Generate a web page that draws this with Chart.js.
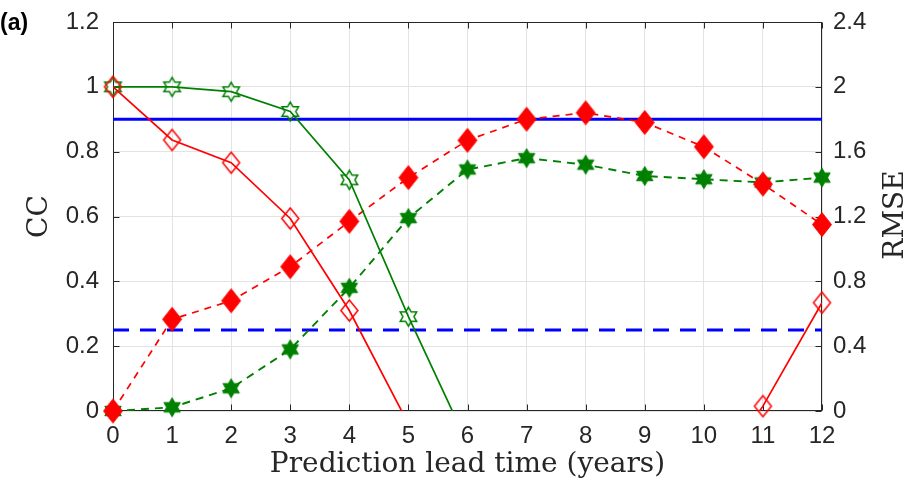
<!DOCTYPE html>
<html><head><meta charset="utf-8">
<script src="https://cdn.jsdelivr.net/npm/chart.js@4/dist/chart.umd.min.js"></script>
<style>html,body{margin:0;padding:0;background:#fff;}#wrap{width:914px;height:491px;position:relative;}</style>
</head><body><div id="wrap"><canvas id="c" width="914" height="491"></canvas></div>
<script>
// ---- data ----
const leadTimes = [0, 1, 2, 3, 4, 5, 6, 7, 8, 9, 10, 11, 12];
const ccRedOpen = [1.0, 0.836, 0.766, 0.594, 0.31, -0.04, -0.15, -0.25, -0.3, -0.3, -0.25, 0.015, 0.334];
const ccGreenOpen = [1.0, 1.0, 0.985, 0.924, 0.713, 0.291, -0.1, -0.3, -0.4, -0.45, -0.45, -0.45, -0.45];
const rmseRedFilled = [0, 0.566, 0.68, 0.89, 1.17, 1.44, 1.67, 1.80, 1.84, 1.78, 1.63, 1.40, 1.15];
const rmseGreenFilled = [0, 0.023, 0.14, 0.38, 0.76, 1.19, 1.49, 1.56, 1.52, 1.45, 1.43, 1.41, 1.44];
const thresholdX = [0, 12];
const ccThreshold = [0.9, 0.9];
const rmseThreshold = [0.5, 0.5];
const xTicks = [0, 1, 2, 3, 4, 5, 6, 7, 8, 9, 10, 11, 12];
const ccTicks = [0, 0.2, 0.4, 0.6, 0.8, 1, 1.2];
const rmseTicks = [0, 0.4, 0.8, 1.2, 1.6, 2, 2.4];

const RED = '#ff0000', GREEN = '#008000', BLUE = '#0000ff', INK = '#262626';

function pts(xs, ys) { return xs.map((x, i) => ({ x: x, y: ys[i] })); }
function fmt(v) { return String(Math.round(v * 100) / 100); }

function hexagram(R, color, filled, lw) {
  const size = Math.ceil(2 * R + 2 * lw) + 1;
  const c = document.createElement('canvas'); c.width = size; c.height = size;
  const g = c.getContext('2d'); const cx = size / 2, cy = size / 2;
  g.beginPath();
  for (let i = 0; i < 12; i++) {
    const a = -Math.PI / 2 + i * Math.PI / 6;
    const r = i % 2 === 0 ? R : R / Math.sqrt(3);
    const px = cx + r * Math.cos(a), py = cy + r * Math.sin(a);
    if (i) g.lineTo(px, py); else g.moveTo(px, py);
  }
  g.closePath();
  if (filled) { g.fillStyle = color; g.fill(); }
  g.lineWidth = lw; g.strokeStyle = color; g.lineJoin = 'miter'; g.stroke();
  return c;
}
function diamond(w, h, color, filled, lw) {
  const W = Math.ceil(w + 2 * lw) + 1, H = Math.ceil(h + 2 * lw) + 1;
  const c = document.createElement('canvas'); c.width = W; c.height = H;
  const g = c.getContext('2d'); const cx = W / 2, cy = H / 2;
  g.beginPath();
  g.moveTo(cx, cy - h / 2); g.lineTo(cx + w / 2, cy); g.lineTo(cx, cy + h / 2); g.lineTo(cx - w / 2, cy); g.closePath();
  if (filled) { g.fillStyle = color; g.fill(); }
  g.lineWidth = lw; g.strokeStyle = color; g.lineJoin = 'miter'; g.stroke();
  return c;
}

const mkRedOpen = diamond(17, 21, RED, false, 1.5);
const mkRedFilled = diamond(19, 24, RED, true, 1);
const mkGreenOpen = hexagram(9.5, GREEN, false, 1.5);
const mkGreenFilled = hexagram(9.5, GREEN, true, 1);

function markers(ys, img, axis) {
  return { data: pts(leadTimes, ys), yAxisID: axis, showLine: false, clip: false,
    pointStyle: img, pointRadius: 5, pointBorderWidth: 1, borderColor: 'rgba(0,0,0,0)', backgroundColor: 'rgba(0,0,0,0)' };
}
function line(xs, ys, axis, color, width, dash) {
  return { data: pts(xs, ys), yAxisID: axis, borderColor: color, borderWidth: width, borderDash: dash || [],
    pointRadius: 0, fill: false, tension: 0, clip: 0 };
}

const framePlugin = {
  id: 'frame',
  beforeDatasetsDraw(chart) {
    const { ctx, chartArea: a, scales } = chart;
    ctx.save();
    ctx.strokeStyle = INK; ctx.lineWidth = 1;
    const L = Math.round(a.left) + 0.5, R = Math.round(a.right) - 0.5, T = Math.round(a.top) + 0.5, B = Math.round(a.bottom) - 0.5;
    ctx.strokeRect(L, T, R - L, B - T);
    ctx.beginPath();
    const tl = 6;
    xTicks.forEach(v => {
      const p = Math.round(scales.x.getPixelForValue(v)) + 0.5;
      ctx.moveTo(p, B); ctx.lineTo(p, B - tl);
      ctx.moveTo(p, T); ctx.lineTo(p, T + tl);
    });
    ccTicks.forEach(v => {
      const p = Math.round(scales.y.getPixelForValue(v)) + 0.5;
      ctx.moveTo(L, p); ctx.lineTo(L + tl, p);
    });
    rmseTicks.forEach(v => {
      const p = Math.round(scales.y1.getPixelForValue(v)) + 0.5;
      ctx.moveTo(R, p); ctx.lineTo(R - tl, p);
    });
    ctx.stroke();
    ctx.restore();
  },
  afterDraw(chart) {
    const { ctx } = chart;
    ctx.save();
    ctx.fillStyle = '#000';
    ctx.font = 'bold 23px "Liberation Sans", Arial, sans-serif';
    ctx.textBaseline = 'middle'; ctx.textAlign = 'left';
    ctx.fillText('(a)', 0, 24);
    ctx.font = '28px "DejaVu Serif", serif';
    ctx.fillStyle = INK;
    ctx.translate(896, 215); ctx.rotate(-Math.PI / 2);
    ctx.textAlign = 'center'; ctx.textBaseline = 'middle';
    ctx.fillText('RMSE', 0, 0);
    ctx.restore();
  }
};

const tickFont = { family: '"Liberation Sans", Arial, sans-serif', size: 24 };
const titleFont = { family: '"DejaVu Serif", serif', size: 28 };

new Chart(document.getElementById('c'), {
  type: 'line',
  data: {
    datasets: [
      markers(ccRedOpen, mkRedOpen, 'y'),
      markers(ccGreenOpen, mkGreenOpen, 'y'),
      markers(rmseRedFilled, mkRedFilled, 'y1'),
      markers(rmseGreenFilled, mkGreenFilled, 'y1'),
      line(leadTimes, ccRedOpen, 'y', RED, 1.7),
      line(leadTimes, ccGreenOpen, 'y', GREEN, 1.7),
      line(leadTimes, rmseRedFilled, 'y1', RED, 1.7, [7, 6]),
      line(leadTimes, rmseGreenFilled, 'y1', GREEN, 1.9, [8, 6]),
      line(thresholdX, ccThreshold, 'y', BLUE, 3),
      line(thresholdX, rmseThreshold, 'y1', BLUE, 3, [16, 11])
    ]
  },
  options: {
    responsive: false, animation: false, devicePixelRatio: 1,
    layout: { padding: { top: 22, left: 0, right: 0, bottom: 0 } },
    plugins: { legend: { display: false }, tooltip: { enabled: false } },
    scales: {
      x: {
        type: 'linear', position: 'bottom', min: 0, max: 12,
        afterBuildTicks: s => { s.ticks = xTicks.map(v => ({ value: v })); },
        afterFit: s => { s.height = 80; s.paddingLeft = 0; s.paddingRight = 0; },
        grid: { color: '#e3e3e3', drawTicks: false, lineWidth: 1 },
        border: { display: false },
        ticks: { font: tickFont, color: INK, padding: 11, maxRotation: 0, autoSkip: false, callback: fmt },
        title: { display: true, text: 'Prediction lead time (years)', font: titleFont, color: INK, padding: { top: 0, bottom: 9 } }
      },
      y: {
        type: 'linear', position: 'left', min: 0, max: 1.2,
        afterBuildTicks: s => { s.ticks = ccTicks.map(v => ({ value: v })); },
        afterFit: s => { s.width = 113; s.paddingTop = 0; s.paddingBottom = 0; },
        grid: { color: '#e3e3e3', drawTicks: false, lineWidth: 1 },
        border: { display: false },
        ticks: { font: tickFont, color: INK, padding: 14, callback: fmt },
        title: { display: true, text: 'CC', font: titleFont, color: INK, padding: { top: 23, bottom: 0 } }
      },
      y1: {
        type: 'linear', position: 'right', min: 0, max: 2.4,
        afterBuildTicks: s => { s.ticks = rmseTicks.map(v => ({ value: v })); },
        afterFit: s => { s.width = 92; s.paddingTop = 0; s.paddingBottom = 0; },
        grid: { display: false, drawTicks: false },
        border: { display: false },
        ticks: { font: tickFont, color: INK, padding: 11, callback: fmt }
      }
    }
  },
  plugins: [framePlugin]
});
</script>
</body></html>
